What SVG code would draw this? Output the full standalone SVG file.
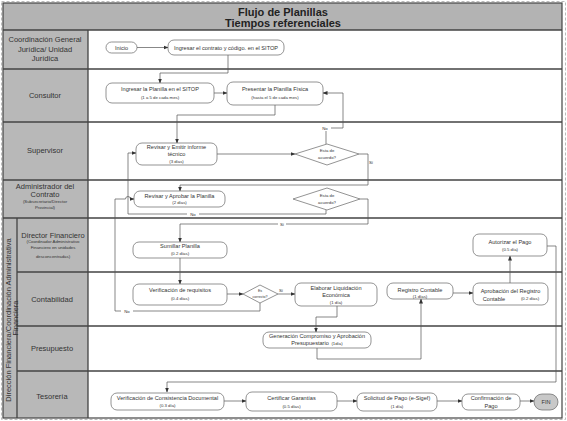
<svg xmlns="http://www.w3.org/2000/svg" width="567" height="421" viewBox="0 0 567 421">
<style>
text{font-family:"Liberation Sans",Arial,sans-serif;fill:#333;text-anchor:middle;dominant-baseline:central}
.ti{font-size:11px;font-weight:bold;fill:#222}
.ln{font-size:7.5px}
.ls{font-size:4.3px}
.n{font-size:5.6px}
.s{font-size:4.3px}
.box{fill:#fff;stroke:#666;stroke-width:0.7}
.dia{fill:#fff;stroke:#666;stroke-width:0.7}
.lab{fill:#b8b8b8}
.sep{stroke:#444;stroke-width:1.3;fill:none}
.c{fill:none;stroke:#555;stroke-width:0.7}
.a{fill:none;stroke:#555;stroke-width:0.7;marker-end:url(#ar)}
.bg{fill:#fff}
</style>
<defs>
<marker id="ar" viewBox="0 0 10 10" refX="9" refY="5" markerWidth="5" markerHeight="5" orient="auto" markerUnits="userSpaceOnUse">
<path d="M0,1 L10,5 L0,9 z" fill="#333"/>
</marker>
</defs>
<rect width="567" height="421" fill="#fff"/>
<rect x="1.5" y="1.5" width="564" height="418" fill="none" stroke="#bbb" stroke-width="1" stroke-dasharray="3 2"/>
<g id="lanes">
<rect x="3" y="3" width="559" height="27" fill="#b3b3b3"/>
<rect class="lab" x="3" y="30" width="85" height="188"/>
<rect class="lab" x="3" y="218" width="85" height="200"/>
<path class="sep" d="M3,30H562M3,69H562M3,122H562M3,180H562M3,218H562M17,272H562M17,326H562M17,371H562M88,30V418M17,218V418"/>
<rect x="3" y="3" width="559" height="415" fill="none" stroke="#444" stroke-width="1.2"/>
<text class="ti" x="283" y="12">Flujo de Planillas</text>
<text class="ti" x="283" y="23">Tiempos referenciales</text>
<text class="ln" x="45" y="39.5">Coordinación General</text>
<text class="ln" x="45" y="49">Jurídica/ Unidad</text>
<text class="ln" x="45" y="58.5">Jurídica</text>
<text class="ln" x="45" y="95">Consultor</text>
<text class="ln" x="45" y="150">Supervisor</text>
<text class="ln" x="45" y="186">Administrador del</text>
<text class="ln" x="45" y="194.5">Contrato</text>
<text class="ls" x="45" y="201.5">(Subsecretario/Director</text>
<text class="ls" x="45" y="207.5">Provincial)</text>
<text class="ln" x="53" y="235">Director Financiero</text>
<text class="ls" x="53" y="241.5">(Coordinador Administrativo</text>
<text class="ls" x="53" y="247">Financiero en unidades</text>
<text class="ls" x="53" y="256">desconcentradas)</text>
<text class="ln" x="52" y="299">Contabilidad</text>
<text class="ln" x="52" y="348">Presupuesto</text>
<text class="ln" x="52" y="396">Tesorería</text>
<text class="ln" transform="translate(8,320) rotate(-90)">Dirección Financiera/Coordinación Administrativa</text>
<text class="ln" transform="translate(15.5,318) rotate(-90)">Financiera</text>
</g>
<g id="connectors">
<path class="a" d="M137,47.5H168"/>
<path class="a" d="M228,55V73H160V83"/>
<path class="a" d="M214,93H227"/>
<path class="a" d="M275,105V115H177V143"/>
<path class="a" d="M217,154H295"/>
<path class="c" d="M326,144V131"/>
<path class="a" d="M330,128H343V93H323"/>
<rect class="bg" x="319" y="125" width="12" height="6"/>
<text class="s" x="325" y="128">No</text>
<path class="a" d="M359,154H368V185H180V191"/>
<text class="s" x="371" y="162">Sí</text>
<path class="a" d="M326,210V214H128V153H136"/>
<rect class="bg" x="187" y="211" width="12" height="6"/>
<text class="s" x="193" y="214">No</text>
<path class="a" d="M360,199H368V224H180V242"/>
<rect class="bg" x="278" y="221" width="8" height="6"/>
<text class="s" x="282" y="224">Sí</text>
<path class="a" d="M180,258V284"/>
<path class="a" d="M227,294H243"/>
<path class="a" d="M278,294H295"/>
<text class="s" x="281" y="290">Sí</text>
<path class="a" d="M260,303V311H115V199H125.5A2.5,2.5 0 0 1 130.5,199H134"/>
<rect class="bg" x="121" y="308" width="12" height="6"/>
<text class="s" x="127" y="311">No</text>
<path class="a" d="M337,306V317H316V332"/>
<path class="a" d="M317,348V359H421V299"/>
<path class="a" d="M453,293H473"/>
<path class="a" d="M510,283V256"/>
<path class="a" d="M547,246H556V382H167V392"/>
<path class="a" d="M224,401H246"/>
<path class="a" d="M337,401H357"/>
<path class="a" d="M437,401H462"/>
<path class="a" d="M520,401H534"/>
</g>
<g id="inicio"><rect class="box" x="106" y="42" width="31" height="11" rx="5.5"/><text class="n" x="121.5" y="47.5">Inicio</text></g>
<g id="ingresar-contrato"><rect class="box" x="168" y="40" width="116" height="15" rx="6"/><text class="n" x="226" y="47.5">Ingresar el contrato y código. en el SITOP</text></g>
<g id="ingresar-planilla"><rect class="box" x="106" y="83" width="108" height="20" rx="6"/><text class="n" x="160" y="89">Ingresar la Planilla en el SITOP</text><text class="s" x="160" y="97">(1 a 5 de cada mes)</text></g>
<g id="presentar-planilla"><rect class="box" x="227" y="82" width="96" height="23" rx="6"/><text class="n" x="275" y="89">Presentar la Planilla Física</text><text class="s" x="275" y="97">(hasta el 5 de cada mes)</text></g>
<g id="revisar-emitir"><rect class="box" x="136" y="143" width="81" height="22" rx="6"/><text class="n" x="176.5" y="146.5">Revisar y Emitir  informe</text><text class="n" x="176.5" y="153.5">técnico</text><text class="s" x="176.5" y="161">(3 días)</text></g>
<g id="decision-supervisor"><path class="dia" d="M295,154L327,144L359,154L327,165Z"/><text class="s" x="327" y="150.5">Esta de</text><text class="s" x="327" y="157.5">acuerdo?</text></g>
<g id="revisar-aprobar"><rect class="box" x="134" y="191" width="91" height="16" rx="6"/><text class="n" x="179.5" y="195.5">Revisar y Aprobar  la Planilla</text><text class="s" x="179.5" y="202">(2 días)</text></g>
<g id="decision-admin"><path class="dia" d="M293,199L327,188L360,199L327,210Z"/><text class="s" x="327" y="195.5">Esta de</text><text class="s" x="327" y="202.5">acuerdo?</text></g>
<g id="sumillar"><rect class="box" x="133" y="242" width="94" height="16" rx="6"/><text class="n" x="180" y="245.5">Sumillar Planilla</text><text class="s" x="180" y="253">(0.2 días)</text></g>
<g id="autorizar"><rect class="box" x="473" y="234" width="74" height="22" rx="6"/><text class="n" x="510" y="242">Autorizar el Pago</text><text class="s" x="510" y="249">(0.5 día)</text></g>
<g id="verificacion-requisitos"><rect class="box" x="133" y="284" width="94" height="21" rx="6"/><text class="n" x="180" y="290">Verificación de requisitos</text><text class="s" x="180" y="298">(0.4 días)</text></g>
<g id="decision-correcto"><path class="dia" d="M243,294L260,285L278,294L260,303Z"/><text class="s" x="260" y="291" style="font-size:3.6px">Es</text><text class="s" x="260" y="297" style="font-size:3.6px">correcto?</text></g>
<g id="elaborar"><rect class="box" x="295" y="283" width="82" height="23" rx="6"/><text class="n" x="336" y="287.5">Elaborar Liquidación</text><text class="n" x="336" y="294.5">Económica</text><text class="s" x="336" y="302">(1 día)</text></g>
<g id="registro"><rect class="box" x="387" y="283" width="66" height="16" rx="6"/><text class="n" x="420" y="289.5">Registro Contable</text><text class="s" x="420" y="296.5">(1 días)</text></g>
<g id="aprobacion-registro"><rect class="box" x="473" y="283" width="75" height="22" rx="6"/><text class="n" x="510.5" y="291">Aprobación del Registro</text><text class="n" x="494" y="298.5">Contable</text><text class="s" x="530" y="298.5">(0.2 días)</text></g>
<g id="generacion"><rect class="box" x="263" y="332" width="108" height="16" rx="6"/><text class="n" x="317" y="335.5">Generación Compromiso y Aprobación</text><text class="n" x="310" y="343">Presupuestario</text><text class="s" x="337" y="343">(1día)</text></g>
<g id="verificacion-consistencia"><rect class="box" x="111" y="393" width="113" height="17" rx="6"/><text class="n" x="167.5" y="398">Verificación de Consistencia Documental</text><text class="s" x="167.5" y="405.5">(0.3 día)</text></g>
<g id="certificar"><rect class="box" x="246" y="392" width="91" height="19" rx="6"/><text class="n" x="291.5" y="398">Certificar Garantías</text><text class="s" x="291.5" y="406">(0.5 días)</text></g>
<g id="solicitud"><rect class="box" x="357" y="393" width="80" height="18" rx="6"/><text class="n" x="397" y="398">Solicitud de Pago (e-Sigef)</text><text class="s" x="397" y="406">(1 día)</text></g>
<g id="confirmacion"><rect class="box" x="462" y="394" width="58" height="16" rx="6"/><text class="n" x="491" y="398">Confirmación de</text><text class="n" x="491" y="405.5">Pago</text></g>
<g id="fin"><rect x="534" y="394" width="24" height="16" rx="8" fill="#c8c8c8" stroke="#666" stroke-width="0.7"/><text class="n" x="546" y="402">FIN</text></g>
</svg>
